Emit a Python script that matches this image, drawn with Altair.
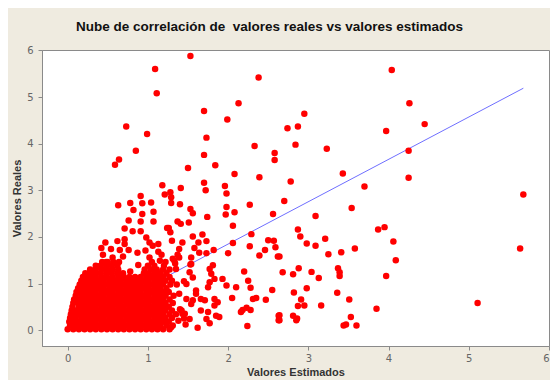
import altair as alt
import pandas as pd

# Scattered points (Valores Estimados, Valores Reales)
outlier_x = [
    1.53, 1.09, 1.11, 2.38, 2.13, 1.70, 1.99, 0.73, 0.99, 1.73, 0.85, 1.70, 0.64, 0.59, 1.50, 1.84,
    2.08, 2.33, 2.39, 2.58, 2.58, 2.74, 2.87, 2.84, 2.78, 1.70, 1.18, 1.41, 1.96,
    4.04, 4.26, 4.45, 3.97, 2.95, 3.23, 4.25, 4.25, 3.43, 3.70, 5.68, 3.54, 3.09, 5.64, 2.87, 2.90,
    3.21, 2.98, 3.09, 3.25, 3.41, 3.58, 3.87, 3.95, 4.06, 4.09, 3.97, 5.11, 2.88, 2.81, 3.04, 3.13,
    3.37, 3.39, 3.39, 2.82, 2.98, 3.36, 3.51, 3.85, 2.91, 2.87, 2.95, 3.16, 2.81, 2.86, 2.85, 3.53,
    3.44, 3.47, 3.60,
    2.68, 2.64, 2.64, 2.70, 2.64,
    1.21, 1.28, 1.29, 1.29, 1.40, 1.72, 1.98, 1.53, 1.56, 1.74, 1.98, 1.97, 2.08, 2.06, 2.27, 1.37,
    1.41, 1.51, 1.26, 1.28, 1.30, 1.43, 1.56, 1.63, 1.68, 1.73, 1.58, 1.64, 1.73, 1.82, 2.00, 2.06,
    2.29, 2.27, 2.39, 2.46, 2.50, 2.57, 2.59, 2.62, 2.56, 1.39, 1.37, 1.31, 1.34, 1.53, 1.54, 1.17,
    1.81,
    0.63, 0.78, 0.82, 0.91, 0.93, 1.04, 1.07, 0.93, 1.07, 0.76, 0.91, 0.71, 0.81, 0.91, 1.24, 0.62,
    0.47, 0.71, 0.71, 0.98, 1.02, 1.06, 0.42, 0.54, 0.65, 0.76, 0.87, 0.97, 0.44, 0.56, 0.69, 1.02,
    1.15, 0.48, 0.38,
    1.13, 1.13, 1.39, 1.35,
    1.33, 1.54, 1.52, 1.56, 1.48, 1.60, 1.77, 1.79, 1.77, 1.83, 1.93, 1.98, 1.75, 1.66, 1.71, 1.83,
    1.87, 1.83, 1.66, 1.75, 1.85, 1.89, 1.73, 1.77, 1.40, 1.43, 1.45, 1.38, 1.56, 1.60, 2.10, 2.05,
    2.20, 2.25, 2.28, 2.31, 2.35, 2.47, 2.55, 2.18, 2.23, 2.16, 2.28, 2.24, 2.63, 2.63,
    1.39, 1.48, 1.54, 1.46, 1.42, 1.52, 1.29, 1.45, 1.47, 1.62,
    0.78, 0.88,
]
outlier_y = [
    5.88, 5.60, 5.08, 5.42, 4.87, 4.70, 4.52, 4.37, 4.21, 4.13, 3.85, 3.76, 3.66, 3.55, 3.48, 3.54,
    3.35, 3.95, 3.28, 3.80, 3.65, 4.33, 4.37, 3.98, 3.19, 3.16, 3.11, 3.05, 3.09,
    5.58, 4.87, 4.42, 4.27, 4.64, 3.89, 3.85, 3.27, 3.36, 3.08, 2.91, 2.62, 2.45, 1.75, 2.16, 2.01,
    1.96, 1.86, 1.81, 1.63, 1.67, 1.75, 2.16, 2.21, 1.90, 1.50, 1.16, 0.58, 1.33, 1.20, 1.25, 1.12,
    1.33, 1.24, 1.16, 0.81, 0.90, 0.80, 0.66, 0.46, 0.66, 0.52, 0.53, 0.53, 0.31, 0.25, 0.21, 0.28,
    0.10, 0.12, 0.10,
    1.24, 0.32, 0.21, 2.77, 1.58,
    2.91, 2.96, 2.85, 2.73, 2.70, 3.00, 2.93, 2.60, 2.51, 2.43, 2.64, 2.48, 2.53, 2.24, 2.69, 2.33,
    2.28, 2.31, 2.19, 2.10, 1.92, 1.88, 2.01, 1.88, 2.05, 1.91, 1.76, 1.66, 1.65, 1.72, 1.65, 1.87,
    2.06, 1.80, 1.60, 1.72, 1.93, 1.92, 1.78, 1.58, 2.49, 1.74, 1.62, 1.53, 1.43, 1.41, 1.56, 1.62,
    1.39,
    2.68, 2.73, 2.58, 2.88, 2.72, 2.74, 2.54, 2.49, 2.33, 2.35, 2.33, 2.18, 2.12, 2.12, 2.19, 1.91,
    1.88, 1.95, 1.85, 1.99, 1.88, 1.81, 1.76, 1.74, 1.72, 1.72, 1.66, 1.71, 1.62, 1.56, 1.58, 1.56,
    1.49, 1.46, 1.36,
    1.85, 1.68, 1.56, 1.31,
    1.49, 1.42, 1.24, 1.13, 0.99, 0.85, 1.31, 1.21, 1.03, 1.10, 1.10, 0.96, 0.92, 0.67, 0.64, 0.67,
    0.60, 0.53, 0.42, 0.39, 0.31, 0.28, 0.24, 0.15, 0.45, 0.35, 0.25, 0.20, 0.64, 0.78, 0.92, 0.69,
    1.26, 1.06, 0.91, 0.67, 0.69, 0.65, 0.86, 0.43, 0.48, 0.39, 0.43, 0.09, 0.31, 0.21,
    0.78, 0.67, 0.56, 0.35, 0.42, 0.24, 0.06, 1.05, 0.12, 0.05,
    1.26, 1.40,
]

# Dense cloud near the origin, read row by row (Valores Reales level -> Valores Estimados)
cluster_rows = {
    0.02: [0.00, 0.07, 0.14, 0.21, 0.28, 0.35, 0.42, 0.49, 0.56, 0.63, 0.70, 0.77, 0.84, 0.91, 0.98, 1.05, 1.12, 1.19, 1.27],
    0.10: [0.03, 0.10, 0.17, 0.24, 0.31, 0.38, 0.45, 0.52, 0.59, 0.66, 0.73, 0.80, 0.87, 0.94, 1.01, 1.08, 1.15, 1.23, 1.31],
    0.18: [0.02, 0.07, 0.14, 0.21, 0.28, 0.35, 0.42, 0.49, 0.56, 0.63, 0.70, 0.77, 0.84, 0.91, 0.98, 1.05, 1.12, 1.19, 1.26],
    0.26: [0.03, 0.10, 0.17, 0.24, 0.31, 0.38, 0.45, 0.52, 0.59, 0.66, 0.73, 0.80, 0.87, 0.94, 1.01, 1.08, 1.15, 1.22, 1.30],
    0.34: [0.04, 0.07, 0.14, 0.21, 0.28, 0.35, 0.42, 0.49, 0.56, 0.63, 0.70, 0.77, 0.84, 0.91, 0.98, 1.05, 1.12, 1.19, 1.27, 1.35],
    0.42: [0.05, 0.10, 0.17, 0.24, 0.31, 0.38, 0.45, 0.52, 0.59, 0.66, 0.73, 0.80, 0.87, 0.94, 1.01, 1.08, 1.15, 1.22, 1.30],
    0.50: [0.06, 0.14, 0.21, 0.28, 0.35, 0.42, 0.49, 0.56, 0.63, 0.70, 0.77, 0.84, 0.91, 0.98, 1.05, 1.12, 1.19, 1.26],
    0.58: [0.07, 0.13, 0.17, 0.24, 0.31, 0.38, 0.45, 0.52, 0.59, 0.66, 0.73, 0.80, 0.87, 0.94, 1.01, 1.08, 1.15, 1.22, 1.31],
    0.66: [0.08, 0.14, 0.21, 0.28, 0.35, 0.42, 0.49, 0.56, 0.63, 0.70, 0.77, 0.84, 0.91, 0.98, 1.05, 1.12, 1.19, 1.27],
    0.74: [0.10, 0.17, 0.24, 0.31, 0.38, 0.45, 0.52, 0.59, 0.66, 0.73, 0.80, 0.87, 0.94, 1.01, 1.08, 1.15, 1.22, 1.32],
    0.82: [0.11, 0.14, 0.21, 0.28, 0.35, 0.42, 0.49, 0.56, 0.63, 0.70, 0.77, 0.84, 0.91, 0.98, 1.05, 1.12, 1.19, 1.26],
    0.90: [0.13, 0.17, 0.24, 0.31, 0.38, 0.45, 0.52, 0.59, 0.66, 0.73, 0.80, 0.87, 0.94, 1.01, 1.08, 1.15, 1.23],
    0.98: [0.15, 0.21, 0.28, 0.35, 0.42, 0.49, 0.56, 0.63, 0.70, 0.77, 0.84, 0.91, 0.98, 1.05, 1.12, 1.19, 1.28, 1.36],
    1.06: [0.17, 0.24, 0.31, 0.38, 0.45, 0.52, 0.59, 0.66, 0.73, 0.80, 0.87, 0.94, 1.01, 1.08, 1.15, 1.22, 1.30],
    1.14: [0.19, 0.21, 0.28, 0.35, 0.42, 0.49, 0.56, 0.63, 0.70, 0.77, 0.84, 0.91, 0.98, 1.05, 1.12, 1.19, 1.27],
    1.22: [0.22, 0.28, 0.34, 0.41, 0.48, 0.55, 0.62, 0.69, 0.95, 1.01, 1.08, 1.15, 1.23],
    1.30: [0.28, 0.35, 0.42, 0.49, 0.56, 0.63, 0.96, 1.04, 1.11, 1.19, 1.27],
    1.38: [0.35, 0.41, 0.48, 0.55, 0.62, 1.00, 1.08, 1.20],
    1.46: [0.43, 0.50, 0.57, 0.64, 1.05, 1.22],
}

# Fitted line end points
line_x = [0.0, 5.68]
line_y = [0.03, 5.19]

x_ticks = [0, 1, 2, 3, 4, 5, 6]
y_ticks = [0, 1, 2, 3, 4, 5, 6]

cx, cy = [], []
for yv, xs in cluster_rows.items():
    cx.extend(xs)
    cy.extend([yv] * len(xs))

pts = pd.DataFrame({"est": cx + outlier_x, "real": cy + outlier_y})
line_df = pd.DataFrame({"est": line_x, "real": line_y})

xscale = alt.Scale(domain=[-0.32, 6.0], nice=False, zero=False)
yscale = alt.Scale(domain=[-0.34, 6.01], nice=False, zero=False)

xaxis = alt.Axis(title="Valores Estimados", values=x_ticks, grid=False, format="d", titlePadding=3)
yaxis = alt.Axis(title="Valores Reales", values=y_ticks, grid=False, format="d", labelPadding=5)

line = alt.Chart(line_df).mark_line(color="#6F6FFF", strokeWidth=1).encode(
    x=alt.X("est:Q", scale=xscale, axis=xaxis),
    y=alt.Y("real:Q", scale=yscale, axis=yaxis),
)

points = alt.Chart(pts).mark_circle(color="#FF0000", size=42, opacity=1).encode(
    x=alt.X("est:Q", scale=xscale, axis=xaxis),
    y=alt.Y("real:Q", scale=yscale, axis=yaxis),
)

chart = (
    alt.layer(line, points)
    .properties(
        width=507,
        height=296,
        background="#EFEBE0",
        autosize=alt.AutoSizeParams(type="none"),
        padding={"left": 34, "top": 42, "right": 1, "bottom": 34},
        title=alt.TitleParams(
            "Nube de correlación de\u00a0 valores reales vs valores estimados",
            font="Liberation Sans",
            fontSize=13.5,
            fontWeight="bold",
            color="#111111",
            anchor="middle",
            dx=-26,
            offset=12,
        ),
    )
    .configure_view(fill="white", stroke="#8A8A8A", strokeWidth=1)
    .configure_axis(
        domainColor="#8A8A8A",
        tickColor="#8A8A8A",
        tickSize=4,
        labelColor="#666666",
        labelFont="DejaVu Sans",
        labelFontSize=10,
        labelPadding=3,
        titleFont="Liberation Sans",
        titleFontSize=11,
        titleFontWeight="bold",
        titleColor="#333333",
        titlePadding=4,
    )
)

chart.save("out.html", embed_options={"renderer": "svg", "actions": False})
